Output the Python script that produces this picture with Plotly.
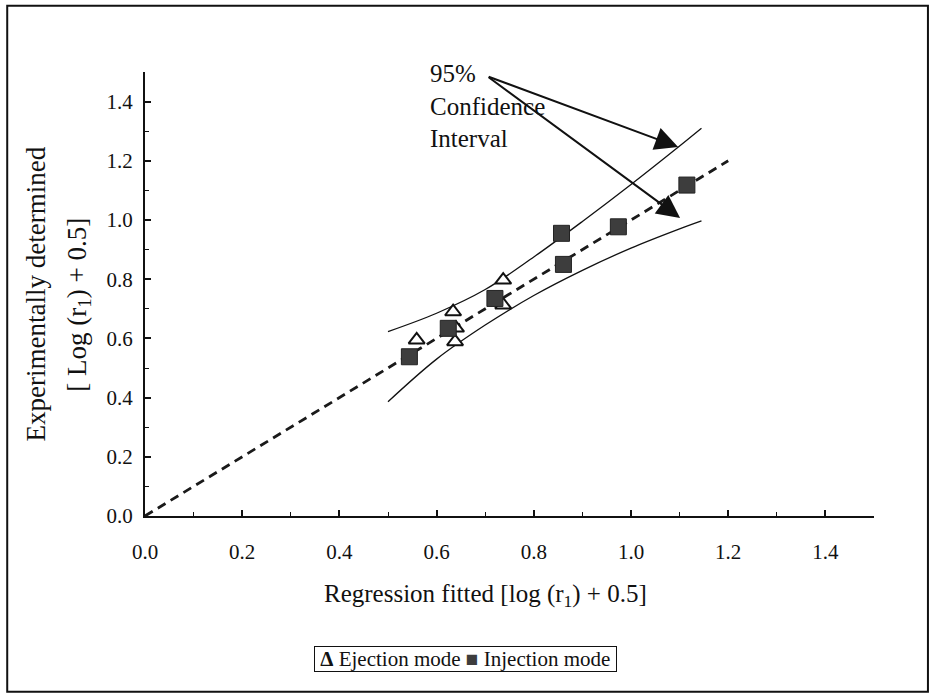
import plotly.graph_objects as go

# Ejection mode observations (regression fitted vs. experimentally determined)
ejection_fitted = [0.559, 0.634, 0.640, 0.638, 0.737, 0.737]
ejection_measured = [0.595, 0.690, 0.635, 0.589, 0.797, 0.713]

# Injection mode observations
injection_fitted = [0.544, 0.624, 0.720, 0.857, 0.861, 0.974, 1.115]
injection_measured = [0.538, 0.634, 0.735, 0.955, 0.850, 0.977, 1.118]

# Fitted line
fit_x = [0.0, 1.2]
fit_y = [0.0, 1.2]

# 95% confidence band
ci_x = [0.50, 0.60, 0.70, 0.80, 0.90, 1.00, 1.10, 1.145]
ci_upper = [0.623, 0.685, 0.765, 0.875, 0.995, 1.120, 1.250, 1.310]
ci_lower = [0.386, 0.530, 0.645, 0.745, 0.830, 0.905, 0.970, 0.997]

# Arrow start (label) and arrow tips pointing at the band
arrow_tail = (0.704, 1.486)
arrow_tips = [(1.097, 1.247), (1.101, 1.007)]

x_ticks = [0.0, 0.2, 0.4, 0.6, 0.8, 1.0, 1.2, 1.4]
y_ticks = [0.0, 0.2, 0.4, 0.6, 0.8, 1.0, 1.2, 1.4]

series_names = ["Ejection mode", "Injection mode"]

SERIF = "Liberation Serif"
INK = "#111111"
SQUARE_FILL = "#3d3d3d"

fig = go.Figure()

fig.add_trace(go.Scatter(
    x=fit_x, y=fit_y, mode="lines", showlegend=False, hoverinfo="skip",
    line=dict(color="#1a1a1a", width=2.8, dash="9px,6px"),
))
fig.add_trace(go.Scatter(
    x=ci_x, y=ci_upper, mode="lines", showlegend=False,
    line=dict(color=INK, width=1.3, shape="spline", smoothing=1.0),
))
fig.add_trace(go.Scatter(
    x=ci_x, y=ci_lower, mode="lines", showlegend=False,
    line=dict(color=INK, width=1.3, shape="spline", smoothing=1.0),
))
fig.add_trace(go.Scatter(
    x=ejection_fitted, y=ejection_measured, mode="markers", name=series_names[0],
    showlegend=False,
    marker=dict(symbol="triangle-up", size=14, color="white",
                line=dict(color=INK, width=2)),
))
fig.add_trace(go.Scatter(
    x=injection_fitted, y=injection_measured, mode="markers", name=series_names[1],
    showlegend=False,
    marker=dict(symbol="square", size=16, color=SQUARE_FILL,
                line=dict(color="#222222", width=1)),
))

# Label with two arrows pointing at the confidence band
fig.add_annotation(
    xref="paper", yref="paper", x=0.388, y=1.032, xanchor="left", yanchor="top",
    align="left", showarrow=False,
    text="95%<br>Confidence<br>Interval",
    font=dict(family=SERIF, size=25, color=INK),
)
for tip in arrow_tips:
    fig.add_annotation(
        x=tip[0], y=tip[1], ax=arrow_tail[0], ay=arrow_tail[1],
        xref="x", yref="y", axref="x", ayref="y", text="",
        showarrow=True, arrowhead=2, arrowsize=2.3, arrowwidth=2,
        arrowcolor=INK,
    )

# Y axis title, two lines
fig.add_annotation(
    xref="paper", yref="paper", x=-0.149, y=0.50, xanchor="center", yanchor="middle",
    textangle=-90, showarrow=False, text="Experimentally determined",
    font=dict(family=SERIF, size=27, color=INK),
)
fig.add_annotation(
    xref="paper", yref="paper", x=-0.091, y=0.475, xanchor="center", yanchor="middle",
    textangle=-90, showarrow=False, text="[ Log (r<sub>1</sub>) + 0.5]",
    font=dict(family=SERIF, size=27, color=INK),
)

# X axis title
fig.add_annotation(
    xref="paper", yref="paper", x=0.243, y=-0.180, xanchor="left", yanchor="middle",
    showarrow=False, text="Regression fitted [log (r<sub>1</sub>) + 0.5]",
    font=dict(family=SERIF, size=25, color=INK),
)

# Boxed key for the two marker series
fig.add_annotation(
    xref="paper", yref="paper", x=0.440, y=-0.322, xanchor="center", yanchor="middle",
    showarrow=False, bordercolor=INK, borderwidth=1, borderpad=0, bgcolor="white",
    text=(f" <b>Δ</b> {series_names[0]} "
          f"<span style='color:{SQUARE_FILL}'>■</span> {series_names[1]} "),
    font=dict(family=SERIF, size=21, color=INK),
)

# Outer frame around the whole figure
fig.add_shape(
    type="rect", xref="paper", yref="paper",
    x0=-0.189, x1=1.074, y0=-0.396, y1=1.149,
    line=dict(color=INK, width=2), fillcolor="rgba(0,0,0,0)", layer="below",
)

axis_common = dict(
    range=[0, 1.5], showgrid=False, zeroline=False,
    showline=True, linecolor=INK, linewidth=2,
    ticks="inside", ticklen=6, tickwidth=1.5, tickcolor=INK,
    tickformat=".1f",
    tickfont=dict(family=SERIF, size=21, color=INK),
    minor=dict(dtick=0.1, ticks="inside", ticklen=4, tickwidth=1.2, tickcolor=INK),
)

fig.update_layout(
    width=935, height=693,
    margin=dict(l=145, r=61, t=72, b=177),
    paper_bgcolor="white", plot_bgcolor="white",
    xaxis=dict(tickvals=x_ticks, ticklabelstandoff=16, **axis_common),
    yaxis=dict(tickvals=y_ticks, ticklabelstandoff=6, **axis_common),
    showlegend=False,
)

fig.write_html("out.html")
